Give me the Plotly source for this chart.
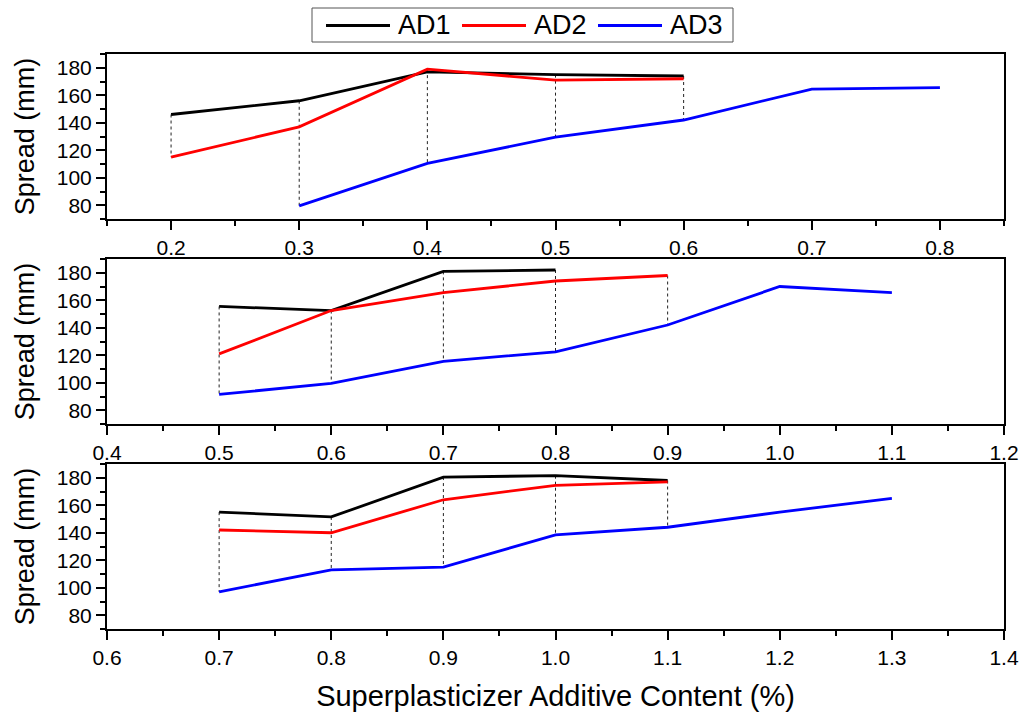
import plotly.graph_objects as go

# ---------------- data ----------------
x_p1 = [0.2, 0.3, 0.4, 0.5, 0.6, 0.7, 0.8]
ad1_p1 = [146, 156, 177, 175, 174, None, None]
ad2_p1 = [115, 137, 179, 171, 172, None, None]
ad3_p1 = [None, 79.5, 110.5, 129.5, 142, 164.5, 165.5]

x_p2 = [0.5, 0.6, 0.7, 0.8, 0.9, 1.0, 1.1]
ad1_p2 = [155.5, 152.5, 181, 182, None, None, None]
ad2_p2 = [121, 152.5, 165.5, 174, 178, None, None]
ad3_p2 = [91.5, 99.5, 115.5, 122.5, 142, 170, 165.5]

x_p3 = [0.7, 0.8, 0.9, 1.0, 1.1, 1.2, 1.3]
ad1_p3 = [155, 151.5, 180.5, 181.5, 178, None, None]
ad2_p3 = [142, 140, 164, 174.5, 177, None, None]
ad3_p3 = [97, 113, 115, 138.5, 144, 155, 165]

x_ranges = [[0.15, 0.85], [0.4, 1.2], [0.6, 1.4]]
y_range = [70, 190]
series_names = ["AD1", "AD2", "AD3"]
series_colors = ["#000000", "#FF0000", "#0000FF"]

panels = [
    (x_p1, [ad1_p1, ad2_p1, ad3_p1]),
    (x_p2, [ad1_p2, ad2_p2, ad3_p2]),
    (x_p3, [ad1_p3, ad2_p3, ad3_p3]),
]

FONT = "Liberation Sans, Arial, sans-serif"
W, H = 1026, 712
plot_tops = [54, 259, 464]
plot_h = 165

fig = go.Figure()

for i, (xs, ys_list) in enumerate(panels):
    xa = "x" if i == 0 else f"x{i+1}"
    ya = "y" if i == 0 else f"y{i+1}"
    # dashed drop lines joining the series at shared x values
    dx, dy = [], []
    for j, xv in enumerate(xs):
        vals = [ys[j] for ys in ys_list if ys[j] is not None]
        if len(vals) >= 2:
            dx += [xv, xv, None]
            dy += [max(vals), min(vals), None]
    fig.add_trace(go.Scatter(x=dx, y=dy, mode="lines", xaxis=xa, yaxis=ya,
                             line=dict(color="#222222", width=1, dash="3px,3px"),
                             showlegend=False, hoverinfo="skip"))
    for k, ys in enumerate(ys_list):
        fig.add_trace(go.Scatter(x=xs, y=ys, mode="lines", name=series_names[k],
                                 xaxis=xa, yaxis=ya,
                                 line=dict(color=series_colors[k], width=2.8),
                                 connectgaps=False, showlegend=False))

# ---------------- manual legend (box, line samples, labels) ----------------
shapes = [dict(type="rect", xref="paper", yref="paper",
               x0=312 / W, x1=733 / W, y0=1 - 42 / H, y1=1 - 8 / H,
               line=dict(color="#555555", width=1), fillcolor="white", layer="above")]
annotations = []
leg_x0 = [326, 462, 598]
sample_len = 64
leg_y = 1 - 25.5 / H
for k, name in enumerate(series_names):
    shapes.append(dict(type="line", xref="paper", yref="paper",
                       x0=leg_x0[k] / W, x1=(leg_x0[k] + sample_len) / W,
                       y0=leg_y, y1=leg_y, line=dict(color=series_colors[k], width=2.8),
                       layer="above"))
    annotations.append(dict(xref="paper", yref="paper", x=(leg_x0[k] + sample_len + 6) / W,
                            y=leg_y, xanchor="left", yanchor="middle", showarrow=False,
                            text=name, font=dict(size=27, family=FONT, color="black")))

layout = dict(
    width=W, height=H,
    margin=dict(l=0, r=0, t=0, b=0, autoexpand=False),
    paper_bgcolor="white", plot_bgcolor="white",
    font=dict(family=FONT, color="black"),
    showlegend=False,
    shapes=shapes, annotations=annotations,
)

for i in range(3):
    sx = "" if i == 0 else str(i + 1)
    top = plot_tops[i]
    dom = [1 - (top + plot_h) / H, 1 - top / H]
    layout[f"xaxis{sx}"] = dict(
        domain=[107 / W, 1004 / W], anchor=f"y{sx}", range=x_ranges[i],
        dtick=0.1, tick0=0, tickformat=".1f", automargin=False,
        ticks="outside", ticklen=9, tickwidth=2, tickcolor="black",
        minor=dict(ticks="outside", ticklen=5, tickwidth=2, dtick=0.05, tickcolor="black"),
        showline=True, linewidth=2, linecolor="black", mirror=True,
        showgrid=False, zeroline=False,
        tickfont=dict(size=21, family=FONT),
    )
    layout[f"yaxis{sx}"] = dict(
        domain=dom, anchor=f"x{sx}", range=y_range, automargin=False,
        dtick=20, tick0=0,
        ticks="outside", ticklen=9, tickwidth=2, tickcolor="black",
        minor=dict(ticks="outside", ticklen=5, tickwidth=2, dtick=10, tickcolor="black"),
        showline=True, linewidth=2, linecolor="black", mirror=True,
        showgrid=False, zeroline=False,
        tickfont=dict(size=21, family=FONT),
        title=dict(text="Spread (mm)", font=dict(size=27, family=FONT), standoff=14),
    )

layout["xaxis3"]["title"] = dict(text="Superplasticizer Additive Content (%)",
                                 font=dict(size=29, family=FONT), standoff=18)

fig.update_layout(**layout)
fig.write_html("out.html")
